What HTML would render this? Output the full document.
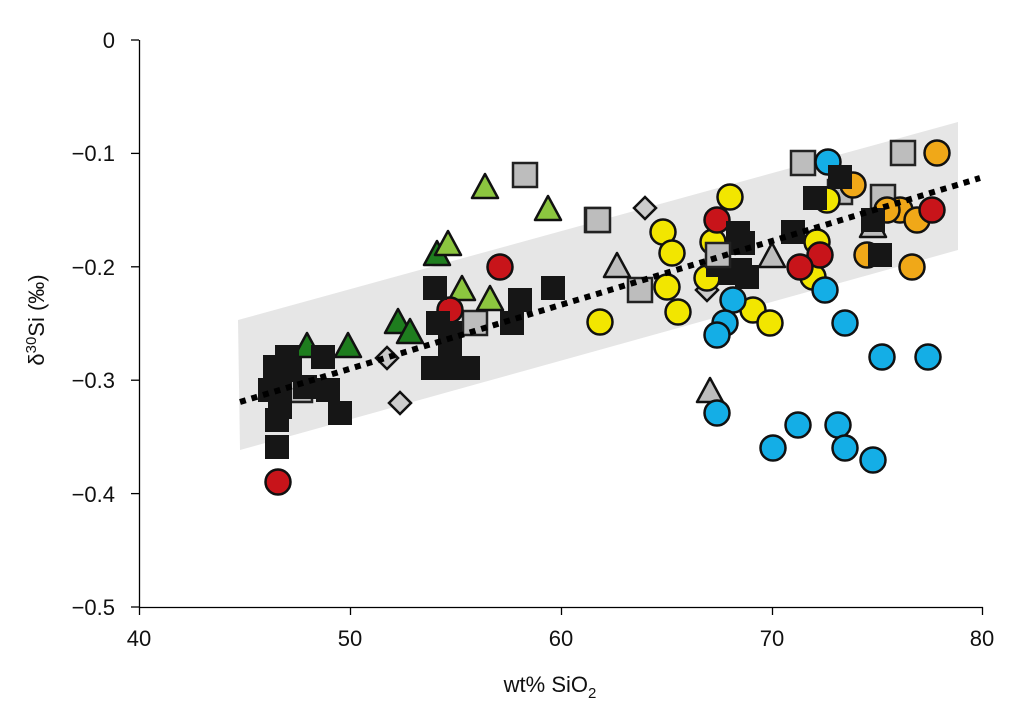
<!DOCTYPE html>
<html><head><meta charset="utf-8"><style>
body{margin:0;background:#fff;}
svg{display:block;font-family:"Liberation Sans",Arial,sans-serif;}
</style></head><body>
<svg id="s" width="1031" height="703" viewBox="0 0 1031 703" xmlns="http://www.w3.org/2000/svg">
<polygon points="238,320 958,122 958,250 240,450" fill="#e6e6e6"/>
<g id="m"></g>
<line x1="240" y1="402" x2="980" y2="178" stroke="#000" stroke-width="6" stroke-dasharray="6,6"/>
<g stroke="#000" stroke-width="1.3">
<line x1="139.5" y1="40" x2="139.5" y2="607"/>
<line x1="139" y1="607.5" x2="983" y2="607.5"/>
<line x1="131" y1="40" x2="139" y2="40"/>
<line x1="131" y1="153.4" x2="139" y2="153.4"/>
<line x1="131" y1="266.8" x2="139" y2="266.8"/>
<line x1="131" y1="380.2" x2="139" y2="380.2"/>
<line x1="131" y1="493.6" x2="139" y2="493.6"/>
<line x1="131" y1="607" x2="139" y2="607"/>
<line x1="139.5" y1="607" x2="139.5" y2="615"/>
<line x1="350.5" y1="607" x2="350.5" y2="615"/>
<line x1="561.5" y1="607" x2="561.5" y2="615"/>
<line x1="772.5" y1="607" x2="772.5" y2="615"/>
<line x1="982.5" y1="607" x2="982.5" y2="615"/>
</g>
<g font-size="22" text-anchor="end" fill="#111">
<text x="115" y="48">0</text>
<text x="115" y="161">−0.1</text>
<text x="115" y="275">−0.2</text>
<text x="115" y="388">−0.3</text>
<text x="115" y="502">−0.4</text>
<text x="115" y="615">−0.5</text>
</g>
<g font-size="22" text-anchor="middle" fill="#111">
<text x="139" y="646">40</text>
<text x="350" y="646">50</text>
<text x="561" y="646">60</text>
<text x="772" y="646">70</text>
<text x="982" y="646">80</text>
<text x="550" y="692">wt% SiO<tspan font-size="15" dy="6">2</tspan></text>
</g>
<text transform="translate(44,320) rotate(-90)" font-size="22" text-anchor="middle" fill="#111">δ<tspan font-size="15" dy="-8">30</tspan><tspan dy="8">Si (‰)</tspan></text>
</svg>
<script>
var g=document.getElementById('m'),NS='http://www.w3.org/2000/svg';
function el(t,a){var e=document.createElementNS(NS,t);for(var k in a)e.setAttribute(k,a[k]);g.appendChild(e);}
function sq(l,f,sw){l.forEach(function(p){el('rect',{x:p[0]-12,y:p[1]-12,width:24,height:24,fill:f,stroke:sw?'#222':'#111','stroke-width':sw||0});});}
function ci(l,f){l.forEach(function(p){el('circle',{cx:p[0],cy:p[1],r:12.5,fill:f,stroke:'#111','stroke-width':2.5});});}
function tr(l,f){l.forEach(function(p){el('polygon',{points:(p[0])+','+(p[1]-14)+' '+(p[0]-13)+','+(p[1]+10)+' '+(p[0]+13)+','+(p[1]+10),fill:f,stroke:'#111','stroke-width':2.5,'stroke-linejoin':'round'});});}
function di(l){l.forEach(function(p){el('polygon',{points:p[0]+','+(p[1]-11)+' '+(p[0]+11)+','+p[1]+' '+p[0]+','+(p[1]+11)+' '+(p[0]-11)+','+p[1],fill:'#ccc',stroke:'#111','stroke-width':2.5});});}
sq([[525,175],[597,220],[475,323],[300,390],[598,220],[903,153],[803,163],[640,290],[883,197],[840,192]],'#bdbdbd',2.5);
di([[387,358],[400,403],[645,208],[707,290]]);
tr([[617,267],[772,257],[710,392],[873,227]],'#bdbdbd');
tr([[307,347],[348,347],[398,323],[410,333],[437,255]],'#1e7d1e');
tr([[485,188],[548,210],[448,245],[462,290],[490,300]],'#8cc63f');
ci([[730,197],[663,232],[672,253],[667,287],[678,312],[600,322],[707,278],[713,242],[753,310],[770,323],[817,242],[813,277],[827,200]],'#f2e600');
ci([[937,153],[853,185],[900,210],[917,220],[867,255],[912,267],[887,210]],'#f0a818');
ci([[717,220],[820,255],[800,267],[932,210],[278,482],[500,267],[450,310]],'#c8141a');
ci([[828,162],[733,300],[725,323],[717,335],[825,290],[845,323],[882,357],[928,357],[717,413],[773,448],[798,425],[838,425],[845,448],[873,460]],'#14aee6');
sq([[738,233],[743,243],[793,232],[740,270],[747,277],[840,177],[815,198],[873,220],[880,255],[730,273],[718,265],[435,288],[520,300],[553,288],[512,323],[438,323],[450,333],[450,350],[433,368],[468,368],[450,368],[287,357],[275,367],[323,357],[270,390],[280,393],[328,390],[340,413],[277,420],[277,447],[290,370],[305,387],[280,407]],'#161616',0);
sq([[718,255]],'#bdbdbd',2.5);
</script>
</body></html>
